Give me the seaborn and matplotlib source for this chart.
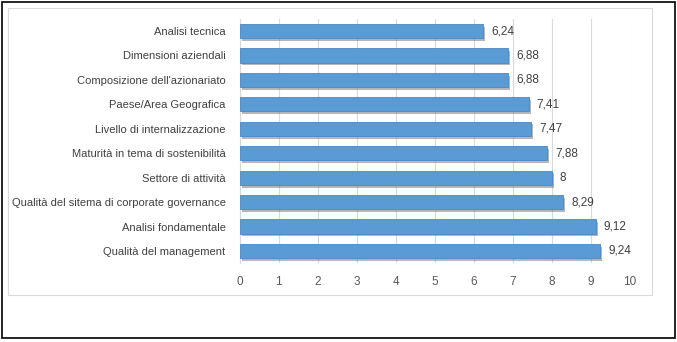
import matplotlib
matplotlib.use("Agg")
import matplotlib.pyplot as plt
import matplotlib.patheffects as pe
from matplotlib.patches import Rectangle
import seaborn as sns
import pandas as pd

categorie = [
    "Analisi tecnica",
    "Dimensioni aziendali",
    "Composizione dell'azionariato",
    "Paese/Area Geografica",
    "Livello di internalizzazione",
    "Maturità in tema di sostenibilità",
    "Settore di attività",
    "Qualità del sitema di corporate governance",
    "Analisi fondamentale",
    "Qualità del management",
]
punteggi = [6.24, 6.88, 6.88, 7.41, 7.47, 7.88, 8.0, 8.29, 9.12, 9.24]
etichette = ["6,24", "6,88", "6,88", "7,41", "7,47", "7,88", "8", "8,29", "9,12", "9,24"]
tick_x = list(range(0, 11))

df = pd.DataFrame({"categoria": categorie, "punteggio": punteggi})

sns.set_theme(style="white")
plt.rcParams["font.family"] = ["Liberation Sans", "DejaVu Sans"]

fig = plt.figure(figsize=(6.77, 3.42), dpi=100)
fig.patch.set_facecolor("white")

# outer black frame and inner chart frame
fig.add_artist(Rectangle((2 / 677, 1 - 338 / 342), 673 / 677, 336 / 342,
                         transform=fig.transFigure, fill=False,
                         edgecolor="black", linewidth=1.2))
fig.add_artist(Rectangle((8 / 677, 1 - 295 / 342), 644 / 677, 287 / 342,
                         transform=fig.transFigure, fill=False,
                         edgecolor="#d9d9d9", linewidth=0.8))

ax = fig.add_axes([239.5 / 677, 1 - 263.2 / 342, 390.5 / 677, 244.4 / 342])
sns.barplot(data=df, y="categoria", x="punteggio", orient="h",
            color="#5b9bd5", width=0.58, saturation=1, ax=ax, zorder=3)

for p in ax.patches:
    p.set_edgecolor("#4a88c5")
    p.set_linewidth(0.6)
    p.set_path_effects([pe.SimplePatchShadow(offset=(1.5, -2), shadow_rgbFace="#6f6f6f", alpha=0.5),
                        pe.Normal()])

for i, (v, t) in enumerate(zip(punteggi, etichette)):
    ax.text(v + 0.2, i, t, va="center", ha="left", fontsize=8.5, color="#404040")

ax.set_xlim(0, 10)
ax.set_xticks(tick_x)
ax.set_xticklabels([str(t) for t in tick_x], fontsize=8.5, color="#595959")
ax.tick_params(axis="x", length=0, pad=9)
ax.tick_params(axis="y", length=0, pad=10, labelsize=8, labelcolor="#404040")
ax.set_xlabel("")
ax.set_ylabel("")
ax.grid(axis="x", color="#d9d9d9", linewidth=0.8, zorder=0)
ax.set_axisbelow(True)
for s in ["top", "right", "bottom"]:
    ax.spines[s].set_visible(False)
ax.spines["left"].set_color("#d9d9d9")
ax.spines["left"].set_linewidth(0.8)

fig.savefig("out.png", dpi=100, facecolor="white")
